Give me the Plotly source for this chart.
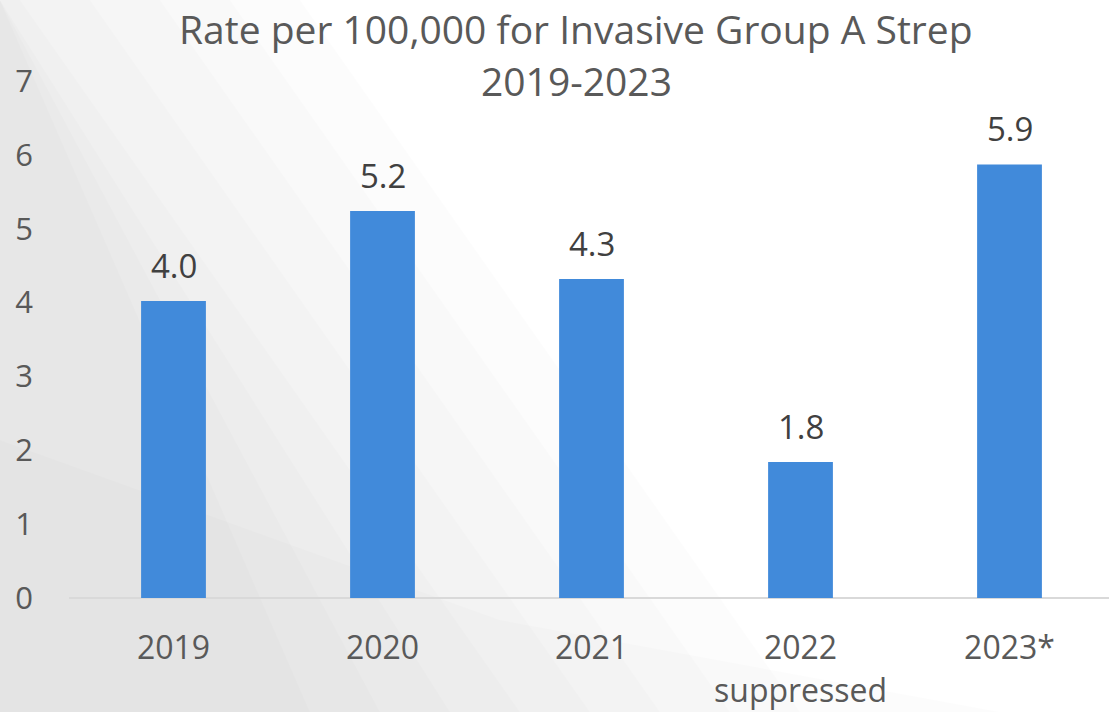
import plotly.graph_objects as go

categories = ["2019", "2020", "2021", "2022", "2023*"]
category_notes = ["", "", "", "suppressed", ""]
rates = [4.02, 5.24, 4.32, 1.84, 5.87]
y_ticks = [0, 1, 2, 3, 4, 5, 6, 7]
title_lines = ["Rate per 100,000 for Invasive Group A Strep", "2019-2023"]

W, H = 1109, 712
L, R, T, B = 69, 0, 81, 114
pw, ph = W - L - R, H - T - B

def px(x):
    return (x - L) / pw

def py(y):
    return (H - B - y) / ph

FONT = "Open Sans"
GRAY = "#595959"

fig = go.Figure()
fig.add_trace(go.Bar(
    x=list(range(len(categories))), y=rates, width=0.31,
    marker=dict(color="#418ADA", line=dict(width=0)),
    hoverinfo="skip",
))

# data labels
for i, v in enumerate(rates):
    fig.add_annotation(x=i, y=v, text=f"{v:.1f}", showarrow=False,
                       yanchor="bottom", yshift=11,
                       font=dict(family=FONT, size=33, color="#404040"))

# second line of category labels
for i, note in enumerate(category_notes):
    if note:
        fig.add_annotation(x=i, xref="x", y=0, yref="paper", text=note,
                           showarrow=False, yanchor="middle", yshift=-91,
                           font=dict(family=FONT, size=32, color=GRAY))

# title
for txt, yc in zip(title_lines, [28, 80]):
    fig.add_annotation(x=px(576), xref="paper", y=py(yc), yref="paper",
                       text=txt, showarrow=False, xanchor="center",
                       yanchor="middle",
                       font=dict(family=FONT, size=39, color=GRAY))

# subtle background gradient (light gray from the left fading to white)
shapes = []
def poly(pts, color):
    path = "M " + " L ".join(f"{px(a):.5f},{py(b):.5f}" for a, b in pts) + " Z"
    shapes.append(dict(type="path", xref="paper", yref="paper", path=path,
                       fillcolor=color, line=dict(width=0), layer="below"))

for c in [60, 130, 200, 270, 340, 410, 480, 550]:
    poly([(0, 0), (max(c - 250, 0), 0), (c + 250, H), (0, H)],
         "rgba(0,0,0,0.011)")
poly([(0, 440), (500, 620), (1000, H), (0, H)], "rgba(0,0,0,0.012)")
fig.update_layout(shapes=shapes)

fig.update_layout(
    width=W, height=H,
    margin=dict(l=L, r=R, t=T, b=B),
    paper_bgcolor="white", plot_bgcolor="rgba(0,0,0,0)",
    showlegend=False,
    font=dict(family=FONT, color=GRAY),
)
fig.update_xaxes(
    range=[-0.5, -0.5 + pw / 209], tickmode="array",
    tickvals=list(range(len(categories))), ticktext=categories,
    tickfont=dict(family=FONT, size=32, color=GRAY),
    showgrid=False, zeroline=False, showline=False, ticks="",
    ticklabelstandoff=28, fixedrange=True,
)
fig.update_yaxes(
    range=[0, 7], tickmode="array", tickvals=y_ticks,
    tickfont=dict(family=FONT, size=31, color=GRAY),
    showgrid=False, zeroline=True, zerolinecolor="#d9d9d9", zerolinewidth=2,
    showline=False, ticks="", ticklabelstandoff=35, fixedrange=True,
)
fig.write_html("out.html", config={"displayModeBar": False},
               post_script="document.body.style.margin='0';")
